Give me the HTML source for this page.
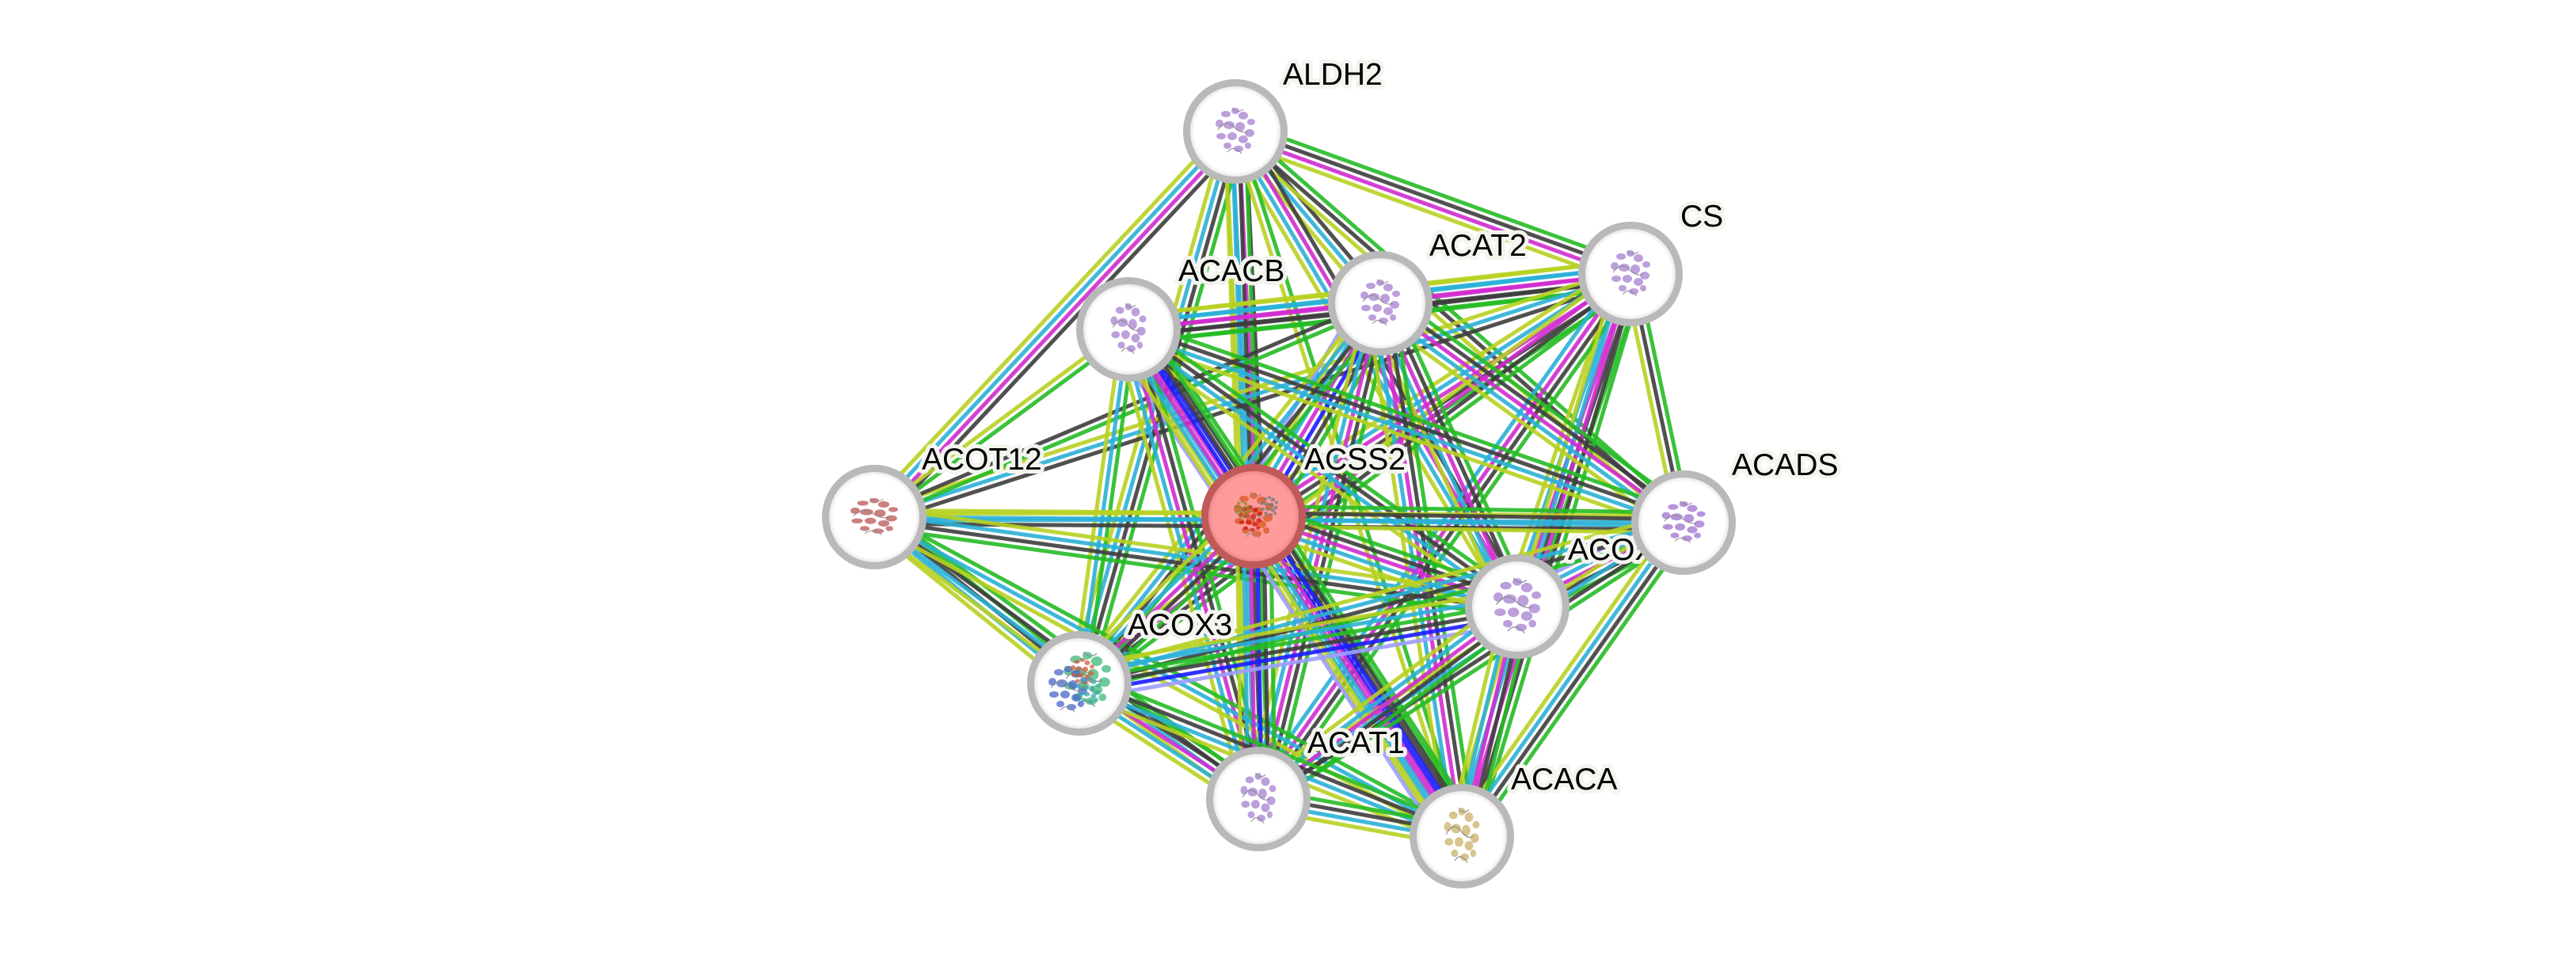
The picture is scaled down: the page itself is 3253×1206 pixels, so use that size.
<!DOCTYPE html>
<html><head><meta charset="utf-8">
<style>
html,body{margin:0;padding:0;background:#fff;width:3253px;height:1206px;overflow:hidden}
svg{display:block}
.e path{stroke-width:5;fill:none;stroke-opacity:.9}
.g{stroke:#25bb25}.k{stroke:#3d3d3d}.b{stroke:#1c1cff}.m{stroke:#cf2bcf}.c{stroke:#2ab0d6}.y{stroke:#b8d021}.p{stroke:#9d9dff}
.nd{fill:url(#ng);stroke:#b9b9b9;stroke-width:9}
.lb{font-family:"Liberation Sans",Arial,sans-serif;font-size:39px;fill:#000;stroke:#f4f4ef;stroke-width:10;stroke-linejoin:round;paint-order:stroke}
</style></head><body>
<svg width="3253" height="1206" viewBox="0 0 3253 1206" xmlns="http://www.w3.org/2000/svg">
<defs>
<radialGradient id="ng"><stop offset="0" stop-color="#fff"/><stop offset="0.84" stop-color="#fff"/><stop offset="1" stop-color="#d6d6d6"/></radialGradient>
<radialGradient id="ag"><stop offset="0" stop-color="#ff9d9d"/><stop offset="0.84" stop-color="#ff9a9a"/><stop offset="1" stop-color="#e07a7a"/></radialGradient>
<g id="pr" fill="currentColor" fill-opacity="0.75">
<ellipse cx="-12" cy="-22" rx="6" ry="4"/><ellipse cx="0" cy="-26" rx="5" ry="4"/><ellipse cx="10" cy="-20" rx="6" ry="5"/>
<ellipse cx="20" cy="-12" rx="5" ry="4"/><ellipse cx="-20" cy="-10" rx="5" ry="5"/><ellipse cx="-8" cy="-8" rx="7" ry="5"/>
<ellipse cx="6" cy="-6" rx="6" ry="6"/><ellipse cx="18" cy="2" rx="6" ry="5"/><ellipse cx="-18" cy="6" rx="6" ry="4"/>
<ellipse cx="-4" cy="6" rx="6" ry="5"/><ellipse cx="10" cy="10" rx="6" ry="5"/><ellipse cx="-10" cy="18" rx="5" ry="4"/>
<ellipse cx="4" cy="22" rx="6" ry="4"/><ellipse cx="16" cy="18" rx="4" ry="4"/>
<path d="M-22 -2q10 -14 20 -4t18 6M-10 26q8 -10 18 2M-4 -30q6 8 14 2" fill="none" stroke="#8a8a8a" stroke-width="1"/>
</g>
</defs>
<rect width="3253" height="1206" fill="#fff"/>
<g class="e">
<g transform="matrix(0.9406 0.3393 -0.3393 0.9406 1560 166)"><path class="g" d="M0 -12.75H530"/><path class="k" d="M0 -4.25H530"/><path class="m" d="M0 4.25H530"/><path class="y" d="M0 12.75H530"/></g>
<g transform="matrix(0.6446 0.7644 -0.7644 0.6446 1560 166)"><path class="k" d="M0 -8.5H284"/><path class="c" d="M0 0H284"/><path class="y" d="M0 8.5H284"/></g>
<g transform="matrix(-0.6835 0.7299 -0.7299 -0.6835 1560 166)"><path class="k" d="M0 -12.75H667"/><path class="m" d="M0 -4.25H667"/><path class="c" d="M0 4.25H667"/><path class="y" d="M0 12.75H667"/></g>
<g transform="matrix(0.0473 0.9989 -0.9989 0.0473 1560 166)"><path class="k" d="M0 -12.75H486"/><path class="m" d="M0 -4.25H486"/><path class="c" d="M0 4.25H486"/><path class="y" d="M0 12.75H486"/></g>
<g transform="matrix(0.7534 0.6575 -0.6575 0.7534 1560 166)"><path class="g" d="M0 -8.5H751"/><path class="k" d="M0 0H751"/><path class="y" d="M0 8.5H751"/></g>
<g transform="matrix(0.5103 0.8600 -0.8600 0.5103 1560 166)"><path class="k" d="M0 -12.75H698"/><path class="m" d="M0 -4.25H698"/><path class="c" d="M0 4.25H698"/><path class="y" d="M0 12.75H698"/></g>
<g transform="matrix(-0.2724 0.9622 -0.9622 -0.2724 1560 166)"><path class="g" d="M0 -12.75H723"/><path class="k" d="M0 -4.25H723"/><path class="c" d="M0 4.25H723"/><path class="y" d="M0 12.75H723"/></g>
<g transform="matrix(0.0344 0.9994 -0.9994 0.0344 1560 166)"><path class="g" d="M0 -12.75H843"/><path class="k" d="M0 -4.25H843"/><path class="c" d="M0 4.25H843"/><path class="y" d="M0 12.75H843"/></g>
<g transform="matrix(0.3059 0.9521 -0.9521 0.3059 1560 166)"><path class="g" d="M0 -4.25H935"/><path class="y" d="M0 4.25H935"/></g>
<g transform="matrix(-0.9931 0.1163 -0.1163 -0.9931 2059 346)"><path class="g" d="M0 -17H318"/><path class="k" d="M0 -8.5H318"/><path class="m" d="M0 0H318"/><path class="c" d="M0 8.5H318"/><path class="y" d="M0 17H318"/></g>
<g transform="matrix(-0.9939 0.1097 -0.1097 -0.9939 2059 346)"><path class="g" d="M0 -17H638"/><path class="k" d="M0 -8.5H638"/><path class="m" d="M0 0H638"/><path class="c" d="M0 8.5H638"/><path class="y" d="M0 17H638"/></g>
<g transform="matrix(-0.9520 0.3060 -0.3060 -0.9520 2059 346)"><path class="k" d="M0 -8.5H1003"/><path class="c" d="M0 0H1003"/><path class="y" d="M0 8.5H1003"/></g>
<g transform="matrix(-0.8411 0.5407 -0.5407 -0.8411 2059 346)"><path class="g" d="M0 -17H566"/><path class="k" d="M0 -8.5H566"/><path class="m" d="M0 0H566"/><path class="c" d="M0 8.5H566"/><path class="y" d="M0 17H566"/></g>
<g transform="matrix(0.2087 0.9779 -0.9779 0.2087 2059 346)"><path class="g" d="M0 -8.5H321"/><path class="k" d="M0 0H321"/><path class="y" d="M0 8.5H321"/></g>
<g transform="matrix(-0.3223 0.9466 -0.9466 -0.3223 2059 346)"><path class="g" d="M0 -17H444"/><path class="k" d="M0 -8.5H444"/><path class="m" d="M0 0H444"/><path class="c" d="M0 8.5H444"/><path class="y" d="M0 17H444"/></g>
<g transform="matrix(-0.8033 0.5956 -0.5956 -0.8033 2059 346)"><path class="g" d="M0 -12.75H866"/><path class="k" d="M0 -4.25H866"/><path class="m" d="M0 4.25H866"/><path class="y" d="M0 12.75H866"/></g>
<g transform="matrix(-0.5783 0.8158 -0.8158 -0.5783 2059 346)"><path class="g" d="M0 -12.75H813"/><path class="k" d="M0 -4.25H813"/><path class="m" d="M0 4.25H813"/><path class="c" d="M0 12.75H813"/></g>
<g transform="matrix(-0.2873 0.9578 -0.9578 -0.2873 2059 346)"><path class="g" d="M0 -17H741"/><path class="k" d="M0 -8.5H741"/><path class="m" d="M0 0H741"/><path class="c" d="M0 8.5H741"/><path class="y" d="M0 17H741"/></g>
<g transform="matrix(-0.9947 0.1032 -0.1032 -0.9947 1743 383)"><path class="g" d="M0 -17H320"/><path class="k" d="M0 -8.5H320"/><path class="m" d="M0 0H320"/><path class="c" d="M0 8.5H320"/><path class="y" d="M0 17H320"/></g>
<g transform="matrix(-0.9211 0.3892 -0.3892 -0.9211 1743 383)"><path class="g" d="M0 -4.25H694"/><path class="k" d="M0 4.25H694"/></g>
<g transform="matrix(-0.5112 0.8594 -0.8594 -0.5112 1743 383)"><path class="g" d="M0 -25.5H313"/><path class="k" d="M0 -17H313"/><path class="b" d="M0 -8.5H313"/><path class="m" d="M0 0H313"/><path class="c" d="M0 8.5H313"/><path class="y" d="M0 17H313"/><path class="p" d="M0 25.5H313"/></g>
<g transform="matrix(0.8102 0.5860 -0.5860 0.8102 1743 383)"><path class="g" d="M0 -17H473"/><path class="k" d="M0 -8.5H473"/><path class="m" d="M0 0H473"/><path class="c" d="M0 8.5H473"/><path class="y" d="M0 17H473"/></g>
<g transform="matrix(0.4116 0.9113 -0.9113 0.4116 1743 383)"><path class="g" d="M0 -17H420"/><path class="k" d="M0 -8.5H420"/><path class="m" d="M0 0H420"/><path class="c" d="M0 8.5H420"/><path class="y" d="M0 17H420"/></g>
<g transform="matrix(-0.6215 0.7834 -0.7834 -0.6215 1743 383)"><path class="g" d="M0 -12.75H611"/><path class="k" d="M0 -4.25H611"/><path class="c" d="M0 4.25H611"/><path class="y" d="M0 12.75H611"/></g>
<g transform="matrix(-0.2389 0.9710 -0.9710 -0.2389 1743 383)"><path class="g" d="M0 -17H645"/><path class="k" d="M0 -8.5H645"/><path class="m" d="M0 0H645"/><path class="c" d="M0 8.5H645"/><path class="y" d="M0 17H645"/></g>
<g transform="matrix(0.1513 0.9885 -0.9885 0.1513 1743 383)"><path class="g" d="M0 -17H681"/><path class="k" d="M0 -8.5H681"/><path class="m" d="M0 0H681"/><path class="c" d="M0 8.5H681"/><path class="y" d="M0 17H681"/></g>
<g transform="matrix(-0.8045 0.5940 -0.5940 -0.8045 1425 416)"><path class="g" d="M0 -4.25H399"/><path class="y" d="M0 4.25H399"/></g>
<g transform="matrix(0.5563 0.8310 -0.8310 0.5563 1425 416)"><path class="g" d="M0 -25.5H284"/><path class="k" d="M0 -17H284"/><path class="b" d="M0 -8.5H284"/><path class="m" d="M0 0H284"/><path class="c" d="M0 8.5H284"/><path class="y" d="M0 17H284"/><path class="p" d="M0 25.5H284"/></g>
<g transform="matrix(0.9444 0.3287 -0.3287 0.9444 1425 416)"><path class="g" d="M0 -12.75H742"/><path class="k" d="M0 -4.25H742"/><path class="c" d="M0 4.25H742"/><path class="y" d="M0 12.75H742"/></g>
<g transform="matrix(0.8143 0.5804 -0.5804 0.8143 1425 416)"><path class="g" d="M0 -12.75H603"/><path class="k" d="M0 -4.25H603"/><path class="c" d="M0 4.25H603"/><path class="y" d="M0 12.75H603"/></g>
<g transform="matrix(-0.1377 0.9905 -0.9905 -0.1377 1425 416)"><path class="g" d="M0 -8.5H450"/><path class="c" d="M0 0H450"/><path class="y" d="M0 8.5H450"/></g>
<g transform="matrix(0.2665 0.9638 -0.9638 0.2665 1425 416)"><path class="g" d="M0 -17H615"/><path class="k" d="M0 -8.5H615"/><path class="m" d="M0 0H615"/><path class="c" d="M0 8.5H615"/><path class="y" d="M0 17H615"/></g>
<g transform="matrix(0.5495 0.8354 -0.8354 0.5495 1425 416)"><path class="g" d="M0 -21.25H766"/><path class="k" d="M0 -12.75H766"/><path class="b" d="M0 -4.25H766"/><path class="m" d="M0 4.25H766"/><path class="c" d="M0 12.75H766"/><path class="y" d="M0 21.25H766"/></g>
<g transform="matrix(1 -0.0021 0.0021 1 1104 653)"><path class="y" d="M0 -4.25H479"/><path class="c" d="M0 4.25H479"/></g>
<g transform="matrix(1 0.0068 -0.0068 1 1104 653)"><path class="y" d="M0 -8.5H1022"/><path class="c" d="M0 0H1022"/><path class="k" d="M0 8.5H1022"/></g>
<g transform="matrix(0.9905 0.1378 -0.1378 0.9905 1104 653)"><path class="y" d="M0 -12.75H820"/><path class="c" d="M0 -4.25H820"/><path class="k" d="M0 4.25H820"/><path class="g" d="M0 12.75H820"/></g>
<g transform="matrix(0.7782 0.6280 -0.6280 0.7782 1104 653)"><path class="g" d="M0 -12.75H333"/><path class="k" d="M0 -4.25H333"/><path class="c" d="M0 4.25H333"/><path class="y" d="M0 12.75H333"/></g>
<g transform="matrix(0.8062 0.5918 -0.5918 0.8062 1104 653)"><path class="g" d="M0 -12.75H602"/><path class="k" d="M0 -4.25H602"/><path class="c" d="M0 4.25H602"/><path class="y" d="M0 12.75H602"/></g>
<g transform="matrix(0.8787 0.4773 -0.4773 0.8787 1104 653)"><path class="g" d="M0 -8.5H844"/><path class="c" d="M0 0H844"/><path class="y" d="M0 8.5H844"/></g>
<g transform="matrix(0.9998 0.0147 -0.0147 0.9998 1583 652)"><path class="g" d="M0 -12.75H543"/><path class="k" d="M0 -4.25H543"/><path class="c" d="M0 4.25H543"/><path class="y" d="M0 12.75H543"/></g>
<g transform="matrix(0.9460 0.3239 -0.3239 0.9460 1583 652)"><path class="g" d="M0 -17H352"/><path class="k" d="M0 -8.5H352"/><path class="m" d="M0 0H352"/><path class="c" d="M0 8.5H352"/><path class="y" d="M0 17H352"/></g>
<g transform="matrix(-0.7234 0.6906 -0.6906 -0.7234 1583 652)"><path class="g" d="M0 -17H304"/><path class="k" d="M0 -8.5H304"/><path class="m" d="M0 0H304"/><path class="c" d="M0 8.5H304"/><path class="y" d="M0 17H304"/></g>
<g transform="matrix(0.0168 0.9999 -0.9999 0.0168 1583 652)"><path class="g" d="M0 -21.25H357"/><path class="k" d="M0 -12.75H357"/><path class="b" d="M0 -4.25H357"/><path class="m" d="M0 4.25H357"/><path class="c" d="M0 12.75H357"/><path class="y" d="M0 21.25H357"/></g>
<g transform="matrix(0.5455 0.8380 -0.8380 0.5455 1583 652)"><path class="g" d="M0 -25.5H482"/><path class="k" d="M0 -17H482"/><path class="b" d="M0 -8.5H482"/><path class="m" d="M0 0H482"/><path class="c" d="M0 8.5H482"/><path class="y" d="M0 17H482"/><path class="p" d="M0 25.5H482"/></g>
<g transform="matrix(-0.8929 0.4507 -0.4507 -0.8929 2126 660)"><path class="g" d="M0 -17H235"/><path class="k" d="M0 -8.5H235"/><path class="m" d="M0 0H235"/><path class="c" d="M0 8.5H235"/><path class="p" d="M0 17H235"/></g>
<g transform="matrix(-0.9667 0.2559 -0.2559 -0.9667 2126 660)"><path class="g" d="M0 -12.75H789"/><path class="k" d="M0 -4.25H789"/><path class="c" d="M0 4.25H789"/><path class="y" d="M0 12.75H789"/></g>
<g transform="matrix(-0.8385 0.5450 -0.5450 -0.8385 2126 660)"><path class="g" d="M0 -12.75H640"/><path class="k" d="M0 -4.25H640"/><path class="c" d="M0 4.25H640"/><path class="y" d="M0 12.75H640"/></g>
<g transform="matrix(-0.5773 0.8165 -0.8165 -0.5773 2126 660)"><path class="g" d="M0 -12.75H485"/><path class="k" d="M0 -4.25H485"/><path class="c" d="M0 4.25H485"/><path class="y" d="M0 12.75H485"/></g>
<g transform="matrix(0.9852 -0.1710 0.1710 0.9852 1363 862)"><path class="y" d="M0 -21.25H561"/><path class="c" d="M0 -12.75H561"/><path class="g" d="M0 -4.25H561"/><path class="k" d="M0 4.25H561"/><path class="b" d="M0 12.75H561"/><path class="p" d="M0 21.25H561"/></g>
<g transform="matrix(-0.8026 0.5965 -0.5965 -0.8026 1916 766)"><path class="g" d="M0 -17H407"/><path class="k" d="M0 -8.5H407"/><path class="m" d="M0 0H407"/><path class="c" d="M0 8.5H407"/><path class="y" d="M0 17H407"/></g>
<g transform="matrix(-0.2347 0.9722 -0.9722 -0.2347 1916 766)"><path class="g" d="M0 -17H298"/><path class="k" d="M0 -8.5H298"/><path class="m" d="M0 0H298"/><path class="c" d="M0 8.5H298"/><path class="y" d="M0 17H298"/></g>
<g transform="matrix(0.8383 0.5452 -0.5452 0.8383 1363 862)"><path class="g" d="M0 -17H270"/><path class="k" d="M0 -8.5H270"/><path class="m" d="M0 0H270"/><path class="c" d="M0 8.5H270"/><path class="y" d="M0 17H270"/></g>
<g transform="matrix(0.9280 0.3727 -0.3727 0.9280 1363 862)"><path class="g" d="M0 -12.75H520"/><path class="k" d="M0 -4.25H520"/><path class="c" d="M0 4.25H520"/><path class="y" d="M0 12.75H520"/></g>
<g transform="matrix(0.9836 0.1799 -0.1799 0.9836 1589 1009)"><path class="g" d="M0 -12.75H261"/><path class="k" d="M0 -4.25H261"/><path class="c" d="M0 4.25H261"/><path class="y" d="M0 12.75H261"/></g>
</g>

<!-- nodes -->
<g transform="translate(1560 166)"><circle r="61.5" class="nd"/><use href="#pr" color="#a57fcf"/></g>
<text class="lb" x="1620" y="107">ALDH2</text>
<g transform="translate(2059 346)"><circle r="61.5" class="nd"/><use href="#pr" color="#a57fcf"/></g>
<text class="lb" x="2122" y="286">CS</text>
<g transform="translate(1743 383)"><circle r="61.5" class="nd"/><use href="#pr" color="#a57fcf"/></g>
<text class="lb" x="1805" y="323">ACAT2</text>
<g transform="translate(1425 416)"><circle r="61.5" class="nd"/><use href="#pr" color="#a57fcf" transform="scale(0.9 1.1)"/></g>
<text class="lb" x="1488" y="355">ACACB</text>
<g transform="translate(1104 653)"><circle r="61.5" class="nd"/><use href="#pr" color="#b95555" transform="scale(1.2 0.8)"/></g>
<text class="lb" x="1164" y="593">ACOT12</text>
<g transform="translate(1583 652)"><circle r="61.5" fill="url(#ag)" stroke="#c05a5a" stroke-width="9"/><use href="#pr" color="#d85a20"/><use href="#pr" color="#cc1a10" transform="translate(-4 4) scale(0.6)"/><use href="#pr" color="#6d7a80" transform="translate(20 -12) scale(0.45)"/><use href="#pr" color="#8a8a20" transform="translate(-14 -8) scale(0.4)"/></g>
<text class="lb" x="1647" y="593">ACSS2</text>
<g transform="translate(1916 766)"><circle r="61.5" class="nd"/><use href="#pr" color="#a57fcf" transform="scale(1.2)"/></g>
<text class="lb" x="1980" y="707">ACOX1</text>
<g transform="translate(2126 660)"><circle r="61.5" class="nd"/><use href="#pr" color="#9e70d0" transform="scale(1.1 0.9)"/></g>
<text class="lb" x="2187" y="600">ACADS</text>
<g transform="translate(1363 863)"><circle r="61.5" class="nd"/><use href="#pr" color="#3cb878" transform="translate(10 -4) scale(1.2)"/><use href="#pr" color="#4a64c8" transform="translate(-14 8) scale(1.0)"/><use href="#pr" color="#d05a3a" transform="translate(4 -14) scale(0.6)"/><use href="#pr" color="#3aa8a8" transform="translate(12 10) scale(0.6)"/></g>
<text class="lb" x="1424" y="802">ACOX3</text>
<g transform="translate(1589 1009)"><circle r="61.5" class="nd"/><use href="#pr" color="#a57fcf" transform="scale(0.9 1.1)"/></g>
<text class="lb" x="1651" y="951">ACAT1</text>
<g transform="translate(1846 1056)"><circle r="61.5" class="nd"/><use href="#pr" color="#c9b068" transform="scale(0.9 1.2)"/></g>
<text class="lb" x="1908" y="997">ACACA</text>
</svg>
</body></html>
